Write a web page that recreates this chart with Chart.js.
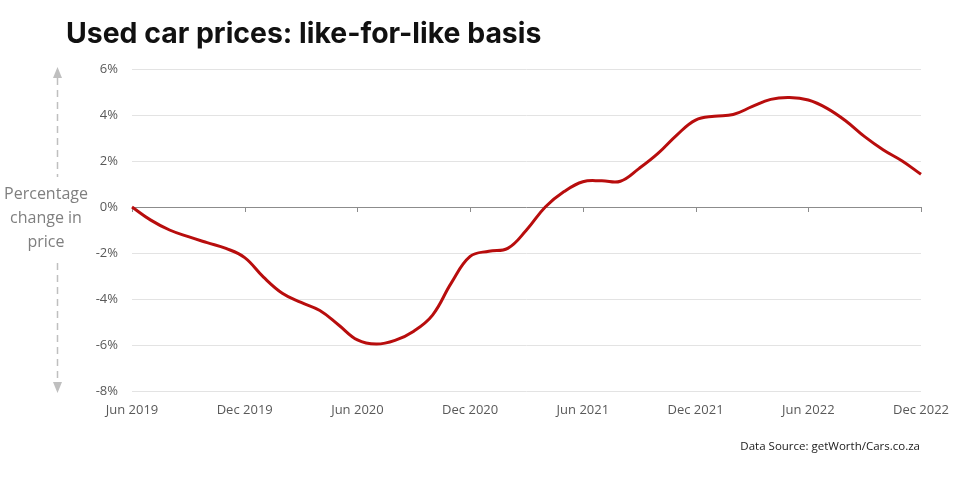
<!DOCTYPE html>
<html>
<head>
<meta charset="utf-8">
<script src="https://cdn.jsdelivr.net/npm/chart.js@4.4.1/dist/chart.umd.min.js"></script>
<style>
  html, body { margin: 0; padding: 0; background: #ffffff; }
  #wrap { width: 960px; height: 480px; position: relative; }
</style>
</head>
<body>
<div id="wrap"><canvas id="c" width="960" height="480"></canvas></div>
<script>
const chartTitle = 'Used car prices: like-for-like basis';
const sourceText = 'Data Source: getWorth/Cars.co.za';
const yAxisLabel = ['Percentage', 'change in', 'price'];

const months = [
  'Jun 2019','Jul 2019','Aug 2019','Sep 2019','Oct 2019','Nov 2019','Dec 2019',
  'Jan 2020','Feb 2020','Mar 2020','Apr 2020','May 2020','Jun 2020',
  'Jul 2020','Aug 2020','Sep 2020','Oct 2020','Nov 2020','Dec 2020',
  'Jan 2021','Feb 2021','Mar 2021','Apr 2021','May 2021','Jun 2021',
  'Jul 2021','Aug 2021','Sep 2021','Oct 2021','Nov 2021','Dec 2021',
  'Jan 2022','Feb 2022','Mar 2022','Apr 2022','May 2022','Jun 2022',
  'Jul 2022','Aug 2022','Sep 2022','Oct 2022','Nov 2022','Dec 2022'
];

const priceChange = [
  0.00, -0.57, -1.00, -1.29, -1.55, -1.80, -2.20,
  -3.05, -3.75, -4.15, -4.50, -5.13, -5.78,
  -5.96, -5.80, -5.40, -4.70, -3.30, -2.15,
  -1.92, -1.80, -1.00, 0.00, 0.67, 1.10,
  1.14, 1.12, 1.68, 2.33, 3.13, 3.78,
  3.95, 4.02, 4.36, 4.68, 4.76, 4.65,
  4.29, 3.74, 3.06, 2.48, 2.00, 1.42
];

const xTickLabels = ['Jun 2019','Dec 2019','Jun 2020','Dec 2020','Jun 2021','Dec 2021','Jun 2022','Dec 2022'];
const yTicks = [-8, -6, -4, -2, 0, 2, 4, 6];

const decorPlugin = {
  id: 'decor',
  beforeDatasetsDraw(chart) {
    const ctx = chart.ctx;
    const x = chart.scales.x, y = chart.scales.y;
    const y0 = y.getPixelForValue(0);
    ctx.save();
    ctx.strokeStyle = '#8c8c8c';
    ctx.lineWidth = 1;
    ctx.beginPath();
    months.forEach((m, i) => {
      if (xTickLabels.includes(m)) {
        const px = Math.round(x.getPixelForValue(i)) + 0.5;
        ctx.moveTo(px, y0);
        ctx.lineTo(px, y0 + 5);
      }
    });
    ctx.stroke();
    ctx.restore();
  },
  afterDraw(chart) {
    const ctx = chart.ctx;
    const area = chart.chartArea;
    ctx.save();
    // Title
    ctx.fillStyle = '#111111';
    ctx.font = 'bold 28.4px Inter, "Open Sans", sans-serif';
    ctx.textAlign = 'left';
    ctx.textBaseline = 'alphabetic';
    ctx.fillText(chartTitle, 66, 43);
    // Source
    ctx.fillStyle = '#1a1a1a';
    ctx.font = '11.5px "Open Sans", sans-serif';
    ctx.textAlign = 'right';
    ctx.fillText(sourceText, 920, 450);
    // Y axis label
    ctx.fillStyle = '#7f7f7f';
    ctx.font = '16px "Open Sans", sans-serif';
    ctx.textAlign = 'center';
    ctx.textBaseline = 'middle';
    const midY = chart.scales.y.getPixelForValue(0);
    yAxisLabel.forEach((t, i) => ctx.fillText(t, 46, midY - 13 + i * 24));
    // Dashed arrows
    const ax = 57.5;
    const topTip = area.top - 2, botTip = area.bottom + 2;
    ctx.strokeStyle = '#bfbfbf';
    ctx.fillStyle = '#bfbfbf';
    ctx.lineWidth = 1.5;
    ctx.setLineDash([7, 5]);
    ctx.beginPath();
    ctx.moveTo(ax, topTip + 11);
    ctx.lineTo(ax, midY - 30);
    ctx.moveTo(ax, midY + 56);
    ctx.lineTo(ax, botTip - 11);
    ctx.stroke();
    ctx.setLineDash([]);
    ctx.beginPath();
    ctx.moveTo(ax, topTip);
    ctx.lineTo(ax - 4.5, topTip + 11);
    ctx.lineTo(ax + 4.5, topTip + 11);
    ctx.closePath();
    ctx.fill();
    ctx.beginPath();
    ctx.moveTo(ax, botTip);
    ctx.lineTo(ax - 4.5, botTip - 11);
    ctx.lineTo(ax + 4.5, botTip - 11);
    ctx.closePath();
    ctx.fill();
    ctx.restore();
  }
};

new Chart(document.getElementById('c'), {
  type: 'line',
  data: {
    labels: months,
    datasets: [{
      data: priceChange,
      borderColor: '#b80d0d',
      borderWidth: 3,
      pointRadius: 0,
      fill: false,
      tension: 0.4
    }]
  },
  options: {
    responsive: false,
    animation: false,
    devicePixelRatio: 1,
    layout: { padding: { top: 69, bottom: 50, left: 0, right: 39 } },
    plugins: { legend: { display: false }, tooltip: { enabled: false }, title: { display: false } },
    scales: {
      x: {
        type: 'category',
        offset: false,
        grid: { display: false },
        border: { display: false },
        afterFit(s) { s.height = 39; },
        ticks: {
          autoSkip: false,
          maxRotation: 0,
          padding: 3,
          color: '#595959',
          font: { family: '"Open Sans", sans-serif', size: 13 },
          callback(v, i) { return xTickLabels.includes(months[i]) ? months[i] : ''; }
        }
      },
      y: {
        min: Math.min(...yTicks),
        max: Math.max(...yTicks),
        afterFit(s) { s.width = 132; },
        afterBuildTicks(s) { s.ticks = yTicks.map(v => ({ value: v })); },
        grid: {
          drawTicks: false,
          color: (c) => (c.tick && c.tick.value === 0) ? '#8c8c8c' : '#e3e3e3',
          lineWidth: 1
        },
        border: { display: false },
        ticks: {
          padding: 14,
          color: '#595959',
          font: { family: '"Open Sans", sans-serif', size: 13 },
          callback: (v) => v + '%'
        }
      }
    }
  },
  plugins: [decorPlugin]
});
</script>
</body>
</html>
